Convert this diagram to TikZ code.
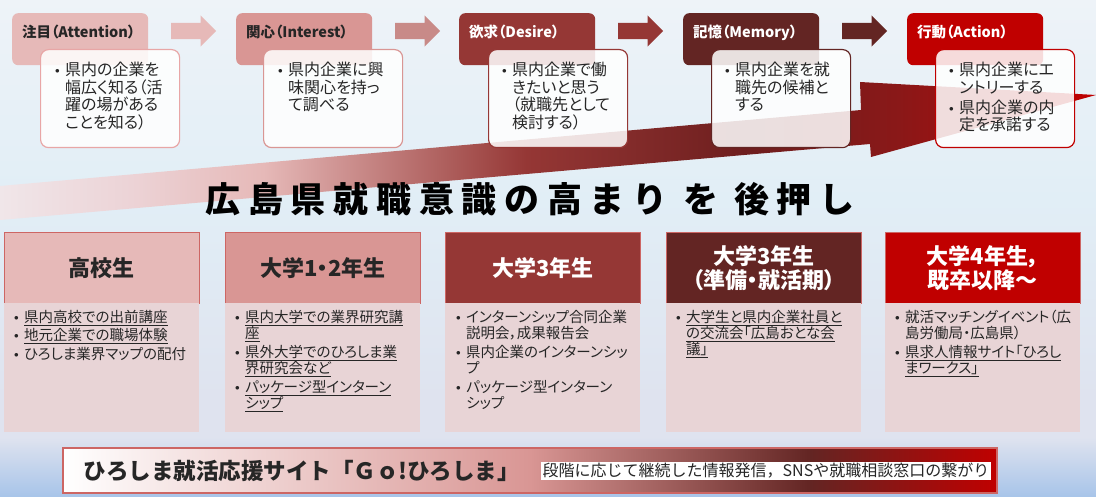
\documentclass[tikz,border=0pt]{standalone}
\usepackage{fontspec}
\setmainfont{Noto Sans CJK JP}[RawFeature=+palt]
\newfontfamily\plainfont{Noto Sans CJK JP}
\newfontfamily\titlefont{Noto Sans CJK JP}[LetterSpace=22]
\usepackage{xcolor}
\usetikzlibrary{shapes.arrows, positioning}

\definecolor{stA}{HTML}{E6B9B8}
\definecolor{stB}{HTML}{D99694}
\definecolor{stC}{HTML}{953735}
\definecolor{stD}{HTML}{632523}
\definecolor{stE}{HTML}{C00000}
\definecolor{bodyfill}{HTML}{E8D4D6}
\definecolor{edge}{HTML}{CD6664}
\definecolor{ink}{HTML}{262626}
\definecolor{bgTop}{HTML}{EEF3F8}
\definecolor{bgMid}{HTML}{E1EEF6}
\definecolor{bgLow}{HTML}{DFE3EF}
\definecolor{bgBot}{HTML}{A7C4E9}
\definecolor{arL}{HTML}{F0E6E9}
\definecolor{arP}{HTML}{ECD3D6}
\definecolor{arD}{HTML}{6E1E1E}
\definecolor{arM}{HTML}{8A1818}

\pgfdeclareverticalshading{bgshade}{100bp}{color(0bp)=(bgBot); color(25bp)=(bgBot); color(31bp)=(bgLow); color(35bp)=(bgLow); color(55bp)=(bgMid); color(75bp)=(bgTop); color(100bp)=(bgTop)}
\pgfdeclarehorizontalshading{riseshade}{100bp}{color(0bp)=(arL); color(25bp)=(arL); color(31bp)=(arP); color(37bp)=(stA); color(49bp)=(stC); color(59bp)=(arD); color(66bp)=(arM); color(75bp)=(stE); color(100bp)=(stE)}
\pgfdeclarehorizontalshading{bannershade}{100bp}{color(0bp)=(white); color(25bp)=(white); color(50bp)=(stB); color(65bp)=(stD); color(75bp)=(stE); color(100bp)=(stE)}

\newcommand\itemdot{\makebox[10pt][l]{\raisebox{2pt}{\fontsize{9pt}{9pt}\selectfont$\bullet$}}}
\newcommand\itemgap{\hspace*{10pt}}

\tikzset{
  stage/.style={rectangle, rounded corners=6pt, anchor=north west, inner xsep=10pt, inner ysep=0pt,
    text width=116pt, text height=24pt, text depth=28pt, align=left,
    font=\fontsize{14.5pt}{16pt}\selectfont\bfseries},
  memo/.style={rectangle, rounded corners=8pt, anchor=north west, fill=white, fill opacity=0.86,
    line width=1.2pt, minimum width=139pt, minimum height=98pt},
  memotext/.style={anchor=north west, inner sep=0pt, align=left, text=ink,
    font=\fontsize{16pt}{17.5pt}\selectfont},
  flowarrow/.style={single arrow, anchor=west, inner sep=8pt, minimum height=45pt,
    single arrow head extend=7.5pt},
  grade/.style={rectangle, anchor=north west, draw=edge, line width=0.8pt, minimum width=195pt,
    minimum height=71pt, align=center, font=\fontsize{22pt}{24pt}\selectfont\bfseries},
  gradebody/.style={rectangle, anchor=north west, fill=bodyfill, minimum width=195pt,
    minimum height=129pt},
  gradetext/.style={anchor=north west, inner sep=0pt, align=left, text=ink,
    font=\fontsize{14.5pt}{16pt}\selectfont},
  banner/.style={rectangle, draw=edge, line width=1.2pt, shade, shading=bannershade,
    minimum width=934pt, minimum height=45pt}
}

\begin{document}
\begin{tikzpicture}[x=1pt, y=-1pt]
\useasboundingbox (0,0) rectangle (1096,497);
\shade[shading=bgshade] (0,0) rectangle (1096,497);

\node[stage, fill=stA, text=ink] (attention) at (12,13) {注目（Attention）};
\node[stage, fill=stB, text=ink] (interest) at (236,13) {関心（Interest）};
\node[stage, fill=stC, text=white] (desire) at (459,13) {欲求（Desire）};
\node[stage, fill=stD, text=white] (memory) at (683,13) {記憶（Memory）};
\node[stage, fill=stE, text=white] (action) at (907,13) {行動（Action）};

\node[flowarrow, fill=stA] (arrowAI) at (171,31) {};
\node[flowarrow, fill=stB!92!black] (arrowID) at (395,31) {};
\node[flowarrow, fill=stC] (arrowDM) at (618,31) {};
\node[flowarrow, fill=stD] (arrowMA) at (842,31) {};

\shade[shading=riseshade] (0,186) -- (861,110) -- (860,82) -- (1096,95) -- (871,157) -- (870,144) -- (0,220) -- cycle;

\node[memo, draw=stA!90!red] (memoA) at (40,49) {};
\node[memo, draw=stB] (memoI) at (263,49) {};
\node[memo, draw=stC] (memoD) at (488,49) {};
\node[memo, draw=stD] (memoM) at (711,49) {};
\node[memo, draw=stE] (memoAc) at (935,49) {};

\node[memotext] (textA) at (55,62) {\itemdot 県内の企業を\\\itemgap 幅広く知る（活\\\itemgap 躍の場がある\\\itemgap ことを知る）};
\node[memotext] (textI) at (278,62) {\itemdot 県内企業に興\\\itemgap 味関心を持っ\\\itemgap て調べる};
\node[memotext] (textD) at (502,62) {\itemdot 県内企業で働\\\itemgap きたいと思う\\\itemgap （就職先として\\\itemgap 検討する）};
\node[memotext] (textM) at (725,62) {\itemdot 県内企業を就\\\itemgap 職先の候補と\\\itemgap する};
\node[memotext] (textAc) at (949,62) {\itemdot 県内企業にエ\\\itemgap ントリーする\\[2.5pt]\itemdot 県内企業の内\\\itemgap 定を承諾する};

\node[font=\titlefont\fontsize{35pt}{37pt}\selectfont\bfseries] (slogan) at (530,199) {広島県就職意識の高まり を 後押し};

\node[grade, fill=stA, text=ink] (school) at (4,232) {高校生};
\node[grade, fill=stB, text=ink] (univA) at (225,232) {大学1・2年生};
\node[grade, fill=stC, text=white] (univB) at (445,232) {大学3年生};
\node[grade, fill=stD, text=white] (univC) at (666,232) {大学3年生\\（準備・就活期）};
\node[grade, fill=stE, text=white] (univD) at (885,232) {大学4年生，\\既卒以降～};

\node[gradebody] (schoolbody) at (4,303) {};
\node[gradebody] (univAbody) at (225,303) {};
\node[gradebody] (univBbody) at (445,303) {};
\node[gradebody] (univCbody) at (666,303) {};
\node[gradebody] (univDbody) at (885,303) {};

\node[gradetext] (schooltext) at (14,310) {\itemdot\underline{県内高校での出前講座}\\[2.5pt]\itemdot\underline{地元企業での職場体験}\\[2.5pt]\itemdot ひろしま業界マップの配付};
\node[gradetext] (univAtext) at (235,310) {\itemdot\underline{県内大学での業界研究講}\\\itemgap\underline{座}\\[3pt]\itemdot\underline{県外大学でのひろしま業}\\\itemgap\underline{界研究会など}\\[3pt]\itemdot\underline{パッケージ型インターン}\\\itemgap\underline{シップ}};
\node[gradetext] (univBtext) at (456,310) {\itemdot インターンシップ合同企業\\\itemgap 説明会，成果報告会\\[3pt]\itemdot 県内企業のインターンシッ\\\itemgap プ\\[3pt]\itemdot パッケージ型インターン\\\itemgap シップ};
\node[gradetext] (univCtext) at (676,310) {\itemdot\underline{大学生と県内企業社員と}\\\itemgap\underline{の交流会「広島おとな会}\\\itemgap\underline{議」}};
\node[gradetext] (univDtext) at (895,310) {\itemdot 就活マッチングイベント（広\\\itemgap 島労働局・広島県）\\[3pt]\itemdot\underline{県求人情報サイト「ひろし}\\\itemgap\underline{まワークス」}};

\node[banner] (site) at (530,470.5) {};
\node[anchor=west, text=ink, font=\plainfont\fontsize{22.5pt}{24pt}\selectfont\bfseries] (sitename) at (80,471) {ひろしま就活応援サイト「Ｇｏ!ひろしま」};
\node[fill=white, inner xsep=2pt, inner ysep=1pt, text=ink, font=\plainfont\fontsize{16pt}{18pt}\selectfont] (sitenote) at (766,471) {段階に応じて継続した情報発信，SNSや就職相談窓口の繋がり};
\end{tikzpicture}
\end{document}
